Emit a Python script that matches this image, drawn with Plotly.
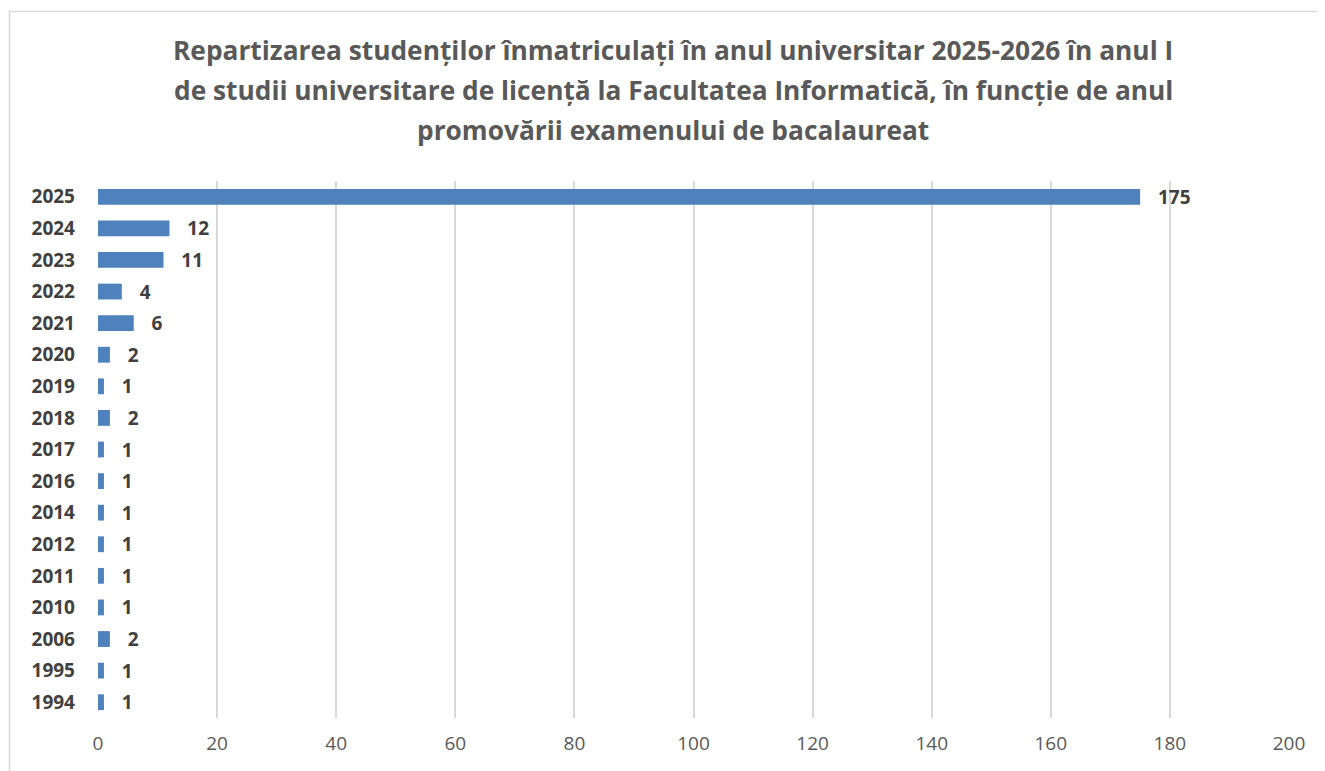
import plotly.graph_objects as go

years = ["2025", "2024", "2023", "2022", "2021", "2020", "2019", "2018", "2017",
         "2016", "2014", "2012", "2011", "2010", "2006", "1995", "1994"]
counts = [175, 12, 11, 4, 6, 2, 1, 2, 1, 1, 1, 1, 1, 1, 2, 1, 1]
title_lines = [
    "Repartizarea studenților înmatriculați în anul universitar 2025-2026 în anul I",
    "de studii universitare de licență la Facultatea Informatică, în funcție de anul",
    "promovării examenului de bacalaureat",
]
x_ticks = [0, 20, 40, 60, 80, 100, 120, 140, 160, 180, 200]

FONT = "Open Sans"
W, H = 1325, 771
OFF = 8  # page body margin
L, R, T, B = 98 - OFF, 36 + OFF, 181 - OFF, 53 + OFF
pw, ph = W - L - R, H - T - B

def px_x(p):
    return (p - OFF - L) / pw

def px_y(p):
    return (H - B - (p - OFF)) / ph

fig = go.Figure()
fig.add_trace(go.Bar(
    y=years, x=counts, orientation="h",
    marker=dict(color="#4F81BD", line=dict(width=0)),
    width=0.5, hoverinfo="x+y",
    texttemplate="\u00a0\u00a0\u00a0<b>%{x}</b>", textposition="outside",
    textfont=dict(family=FONT, size=19, color="#404040"),
    constraintext="none", cliponaxis=False,
))

annotations = []
for i, line in enumerate(title_lines):
    annotations.append(dict(
        x=px_x(673), y=px_y(50 + 40 * i), xref="paper", yref="paper",
        text=f"<b>{line}</b>", showarrow=False, xanchor="center", yanchor="middle",
        font=dict(family=FONT, size=26.3, color="#595959"),
    ))

fig.update_layout(
    width=W, height=H,
    margin=dict(l=L, r=R, t=T, b=B, pad=0, autoexpand=False),
    paper_bgcolor="white", plot_bgcolor="white",
    showlegend=False,
    annotations=annotations,
    shapes=[dict(
        type="rect", xref="paper", yref="paper",
        x0=px_x(9.5), x1=px_x(W + 40), y0=px_y(H + 40), y1=px_y(11.5),
        line=dict(color="#D9D9D9", width=1.5), fillcolor="rgba(0,0,0,0)", layer="below",
    )],
    xaxis=dict(
        range=[0, 200], tickvals=x_ticks, ticktext=[str(v) for v in x_ticks],
        showgrid=True, gridcolor="#D9D9D9", gridwidth=1.5,
        zeroline=False, showline=False, ticks="", automargin=False,
        tickfont=dict(family=FONT, size=19, color="#595959"),
        ticklabelstandoff=12, fixedrange=True,
    ),
    yaxis=dict(
        type="category",
        categoryorder="array", categoryarray=years[::-1],
        showgrid=False, zeroline=False, showline=False, ticks="", automargin=False,
        tickfont=dict(family=FONT, size=19, color="#404040", weight="bold"),
        ticklabelstandoff=22, fixedrange=True,
    ),
)

fig.write_html("out.html")
